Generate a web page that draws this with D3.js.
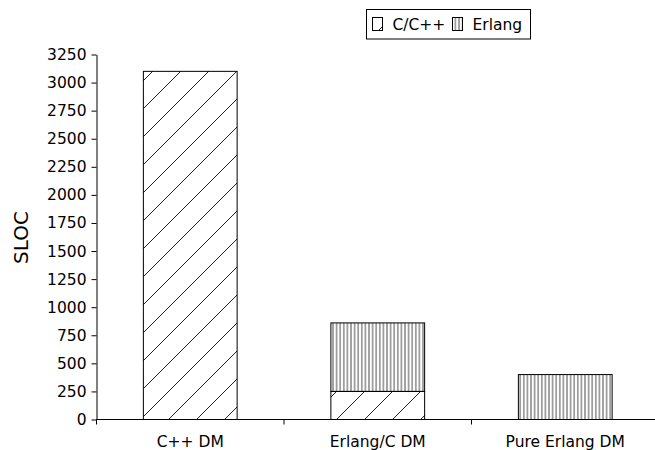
<!DOCTYPE html>
<html>
<head>
<meta charset="utf-8">
<script src="https://cdn.jsdelivr.net/npm/d3@7"></script>
<style>
  body { margin: 0; background: #fff; }
  text { font-family: "DejaVu Sans", sans-serif; fill: #000; }
</style>
</head>
<body>
<div id="chart"></div>
<script>
// chart data
const categories = ["C++ DM", "Erlang/C DM", "Pure Erlang DM"];
const cppValues = [3100, 250, 0];
const erlangValues = [0, 610, 400];
const seriesNames = ["C/C++", "Erlang"];
const yTicks = [0, 250, 500, 750, 1000, 1250, 1500, 1750, 2000, 2250, 2500, 2750, 3000, 3250];

const width = 655, height = 450;
const fontSize = 15.5;

const svg = d3.select("#chart").append("svg")
    .attr("width", width)
    .attr("height", height);

// hatch patterns
const defs = svg.append("defs");
function diagPattern(id, offset) {
    const p = defs.append("pattern")
        .attr("id", id)
        .attr("patternUnits", "userSpaceOnUse")
        .attr("x", offset)
        .attr("width", 28).attr("height", 28);
    p.append("path")
        .attr("d", "M-7,7 L7,-7 M0,28 L28,0 M21,35 L35,21")
        .attr("stroke", "#222").attr("stroke-width", 1);
}
diagPattern("hatch-diag", 0);
diagPattern("hatch-diag-legend", 17);

const vert = defs.append("pattern")
    .attr("id", "hatch-vert")
    .attr("patternUnits", "userSpaceOnUse")
    .attr("width", 3.6).attr("height", 10);
vert.append("line")
    .attr("x1", 1.8).attr("x2", 1.8).attr("y1", 0).attr("y2", 10)
    .attr("stroke", "#333").attr("stroke-width", 0.9);

const fills = ["url(#hatch-diag)", "url(#hatch-vert)"];
const legendFills = ["url(#hatch-diag-legend)", "url(#hatch-vert)"];

// scales
const x = d3.scaleBand()
    .domain(categories)
    .range([96.5, 659])
    .paddingInner(0.5)
    .paddingOuter(0.25);

const y = d3.scaleLinear()
    .domain([0, 3250])
    .range([419.5, 54.5]);

// stacked data
const rows = categories.map((c, i) => ({cat: c, "C/C++": cppValues[i], "Erlang": erlangValues[i]}));
const stacked = d3.stack().keys(seriesNames)(rows);

stacked.forEach((layer, li) => {
    svg.append("g")
        .selectAll("rect")
        .data(layer.filter(d => d[1] - d[0] > 0))
        .join("rect")
        .attr("x", d => x(d.data.cat))
        .attr("y", d => y(d[1]))
        .attr("width", x.bandwidth())
        .attr("height", d => y(d[0]) - y(d[1]))
        .attr("fill", fills[li])
        .attr("stroke", "#000")
        .attr("stroke-width", 1);
});

// y axis
const yAxis = svg.append("g")
    .attr("transform", "translate(96.5,0)")
    .call(d3.axisLeft(y).tickValues(yTicks).tickFormat(d3.format("d"))
        .tickSize(5).tickSizeOuter(0).tickPadding(5));
yAxis.selectAll("text").style("font-size", fontSize + "px").style("font-family", "DejaVu Sans");
yAxis.select(".domain").attr("stroke", "#000");

// x axis line and boundary ticks
const xg = svg.append("g");
xg.append("line")
    .attr("x1", x.range()[0]).attr("x2", width)
    .attr("y1", y(0)).attr("y2", y(0))
    .attr("stroke", "#000");
xg.selectAll("line.tick")
    .data(d3.range(categories.length))
    .join("line")
    .attr("class", "tick")
    .attr("x1", i => x.range()[0] + i * x.step())
    .attr("x2", i => x.range()[0] + i * x.step())
    .attr("y1", y(0)).attr("y2", y(0) + 5)
    .attr("stroke", "#000");
xg.selectAll("text")
    .data(categories)
    .join("text")
    .attr("x", d => x(d) + x.bandwidth() / 2)
    .attr("y", 447)
    .attr("text-anchor", "middle")
    .style("font-size", fontSize + "px")
    .text(d => d);

// y label
svg.append("text")
    .attr("transform", "translate(28,237.5) rotate(-90)")
    .attr("text-anchor", "middle")
    .style("font-size", "20px")
    .text("SLOC");

// legend
const legend = svg.append("g");
legend.append("rect")
    .attr("x", 366.5).attr("y", 9.5)
    .attr("width", 164).attr("height", 29.5)
    .attr("fill", "#fff").attr("stroke", "#000");
const legendX = [372.5, 452.5];
seriesNames.forEach((name, i) => {
    legend.append("rect")
        .attr("x", legendX[i]).attr("y", 17.5)
        .attr("width", 10).attr("height", 13)
        .attr("fill", legendFills[i])
        .attr("stroke", "#000");
    legend.append("text")
        .attr("x", legendX[i] + 20)
        .attr("y", 30)
        .style("font-size", fontSize + "px")
        .text(name);
});
</script>
</body>
</html>
